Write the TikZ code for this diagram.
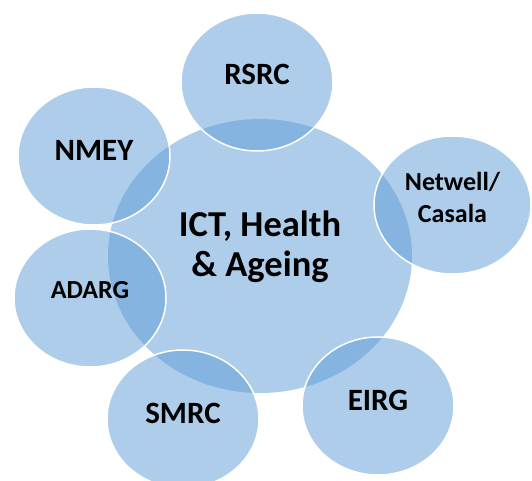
\documentclass[tikz,border=0pt]{standalone}
\usepackage{fontspec}
\setmainfont{Carlito}
\usetikzlibrary{shapes.geometric}
\definecolor{bub}{HTML}{5B9BD5}
\tikzset{
  bubble/.style={ellipse, fill=bub, fill opacity=0.5, draw=white, line width=1.5pt,
    minimum width=152pt, minimum height=138pt, inner sep=0pt},
  tag/.style={font=\bfseries\fontsize{31}{33}\selectfont, align=center, inner sep=0pt}
}
\begin{document}
\begin{tikzpicture}[x=1pt,y=-1pt, line join=round]
\useasboundingbox (0,0) rectangle (532,481);
% middle
\node[bubble, draw=none, minimum width=304pt, minimum height=274pt] (hub) at (260,256) {};
% ring of groups
\node[bubble] (rsrc) at (257,82) {};
\node[bubble, minimum width=157pt] (netw) at (452.5,205) {};
\node[bubble] (eirg) at (378,406) {};
\node[bubble] (smrc) at (183,419) {};
\node[bubble] (adarg) at (90,298) {};
\node[bubble] (nmey) at (94,156) {};
% labels
\node[tag, font=\bfseries\fontsize{36.5}{40}\selectfont] (hub-t) at ([yshift=9pt]hub) {ICT, Health\\\& Ageing};
\node[tag] (rsrc-t) at ([yshift=8pt]rsrc) {RSRC};
\node[tag, font=\bfseries\fontsize{26}{32}\selectfont] (netw-t) at ([yshift=8pt]netw) {Netwell/\\Casala};
\node[tag] (eirg-t) at ([yshift=6pt]eirg) {EIRG};
\node[tag] (smrc-t) at ([yshift=6pt]smrc) {SMRC};
\node[tag, font=\bfseries\fontsize{26}{28}\selectfont] (adarg-t) at ([yshift=8pt]adarg) {ADARG};
\node[tag] (nmey-t) at ([yshift=6pt]nmey) {NMEY};
\end{tikzpicture}
\end{document}
